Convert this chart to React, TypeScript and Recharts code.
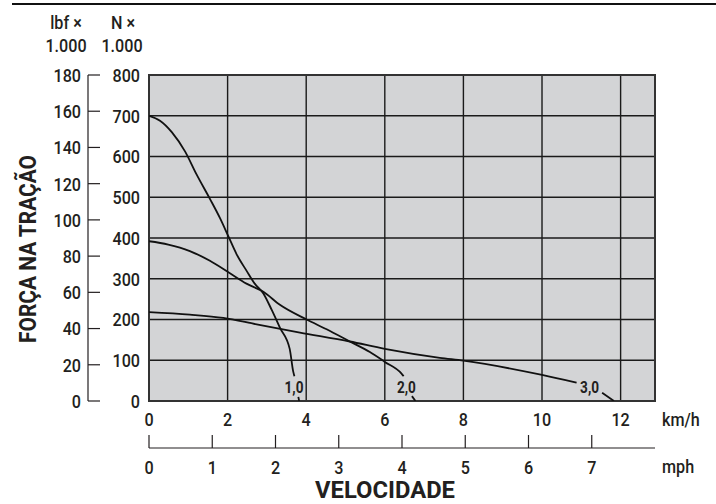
import {
  CartesianGrid,
  Label,
  Line,
  LineChart,
  ReferenceArea,
  ReferenceDot,
  XAxis,
  YAxis,
} from "recharts";

type Point = { x: number; y: number | null };

const FONT = "Roboto, 'Liberation Sans', sans-serif";
const SX = 0.85; // squeeze to mimic the condensed face
const INK = "#231f20";
const PLOT_BG = "#d3d4d6";

const kmhTicks = [0, 2, 4, 6, 8, 10, 12];
const mphTicks = [0, 1, 2, 3, 4, 5, 6, 7];
const newtonTicks = [0, 100, 200, 300, 400, 500, 600, 700, 800];
const lbfTicks = [0, 20, 40, 60, 80, 100, 120, 140, 160, 180];

// traction force (N) against speed (km/h); null = gap under the curve label
const curve10: Point[] = [
  { x: 0, y: 700 },
  { x: 0.28, y: 688 },
  { x: 0.58, y: 660 },
  { x: 0.92, y: 612 },
  { x: 1.21, y: 556 },
  { x: 1.55, y: 496 },
  { x: 1.81, y: 448 },
  { x: 2.02, y: 404 },
  { x: 2.23, y: 360 },
  { x: 2.48, y: 320 },
  { x: 2.69, y: 288 },
  { x: 2.91, y: 264 },
  { x: 3.12, y: 224 },
  { x: 3.33, y: 180 },
  { x: 3.58, y: 128 },
  { x: 3.67, y: 72 },
  { x: 3.7, y: 61 },
  { x: 3.75, y: null },
  { x: 3.8, y: 10 },
  { x: 3.82, y: 0 },
];

const curve20: Point[] = [
  { x: 0, y: 392 },
  { x: 0.49, y: 384 },
  { x: 1.04, y: 368 },
  { x: 1.55, y: 344 },
  { x: 2.02, y: 316 },
  { x: 2.48, y: 288 },
  { x: 2.91, y: 268 },
  { x: 3.33, y: 236 },
  { x: 4.01, y: 200 },
  { x: 4.52, y: 176 },
  { x: 5.11, y: 146 },
  { x: 5.62, y: 120 },
  { x: 6.0, y: 96 },
  { x: 6.42, y: 68 },
  { x: 6.48, y: 61 },
  { x: 6.6, y: null },
  { x: 6.69, y: 12 },
  { x: 6.78, y: 0 },
];

const curve30: Point[] = [
  { x: 0, y: 218 },
  { x: 1.04, y: 212 },
  { x: 1.89, y: 204 },
  { x: 2.74, y: 188 },
  { x: 3.84, y: 168 },
  { x: 5.11, y: 146 },
  { x: 6.0, y: 128 },
  { x: 7.4, y: 106 },
  { x: 8.0, y: 99 },
  { x: 10.0, y: 64 },
  { x: 10.88, y: 45 },
  { x: 11.2, y: null },
  { x: 11.53, y: 20 },
  { x: 11.83, y: 0 },
];

const curveLabels = [
  { x: 3.69, y: 33, text: "1,0" },
  { x: 6.55, y: 33, text: "2,0" },
  { x: 11.21, y: 33, text: "3,0" },
];

type CTextProps = {
  x: number;
  y: number;
  dy?: string;
  anchor?: "start" | "middle" | "end";
  size?: number;
  weight?: number;
  children: React.ReactNode;
};

// condensed text: scaled horizontally around its own anchor
function CText({ x, y, dy = "0.36em", anchor = "middle", size = 19, weight = 500, children }: CTextProps) {
  return (
    <text
      transform={`translate(${x},${y}) scale(${SX},1)`}
      dy={dy}
      textAnchor={anchor}
      fill={INK}
      fontSize={size}
      fontWeight={weight}
      fontFamily={FONT}
    >
      {children}
    </text>
  );
}

const LbfTick = (props: any) => {
  const { x, y, payload } = props;
  return (
    <g>
      <line x1={x + 7} y1={y} x2={x + 19} y2={y} stroke={INK} strokeWidth={1.2} />
      <CText x={x} y={y} anchor="end">{payload.value}</CText>
    </g>
  );
};

const NewtonTick = (props: any) => {
  const { x, y, payload } = props;
  return <CText x={x} y={y} anchor="end">{payload.value}</CText>;
};

const KmhTick = (props: any) => {
  const { x, y, payload } = props;
  return <CText x={x} y={y} dy="0.71em">{payload.value}</CText>;
};

const MphTick = (props: any) => {
  const { x, y, payload } = props;
  return (
    <g>
      <line x1={x} y1={y - 25} x2={x} y2={y - 12} stroke={INK} strokeWidth={1.2} />
      <CText x={x} y={y} dy="0.71em">{payload.value}</CText>
    </g>
  );
};

const CurveLabel = (props: any) => {
  const { viewBox, value } = props;
  const cx = viewBox.x + viewBox.width / 2;
  const cy = viewBox.y + viewBox.height / 2;
  return (
    <CText x={cx} y={cy} size={16} weight={700}>
      {value}
    </CText>
  );
};

export default function App() {
  return (
    <div style={{ position: "absolute", left: 0, top: 0, background: "#fff" }}>
      <LineChart width={716} height={504} margin={{ top: 75, right: 61, bottom: 26, left: 0 }}>
        <CartesianGrid
          xAxisId="kmh"
          yAxisId="N"
          fill={PLOT_BG}
          fillOpacity={1}
          stroke="#1a1a1a"
          strokeWidth={1.4}
        />
        <XAxis
          xAxisId="kmh"
          dataKey="x"
          type="number"
          domain={[0, 12.875]}
          ticks={kmhTicks}
          allowDataOverflow
          axisLine={false}
          tickLine={false}
          tickSize={0}
          tickMargin={11}
          height={47}
          interval={0}
          tick={<KmhTick />}
        >
          <Label
            content={() => (
              <CText x={662} y={419} anchor="start">
                km/h
              </CText>
            )}
          />
        </XAxis>
        <XAxis
          xAxisId="mph"
          dataKey="x"
          type="number"
          domain={[0, 8]}
          ticks={mphTicks}
          allowDataOverflow
          axisLine={{ stroke: INK, strokeWidth: 1.2 }}
          tickLine={false}
          tickSize={0}
          tickMargin={12}
          height={30}
          interval={0}
          tick={<MphTick />}
        >
          <Label
            content={() => (
              <g>
                <CText x={662} y={466} anchor="start">
                  mph
                </CText>
                <text
                  x={385}
                  y={490}
                  dy="0.36em"
                  textAnchor="middle"
                  textLength={140}
                  lengthAdjust="spacingAndGlyphs"
                  fill={INK}
                  fontSize={23}
                  fontWeight={700}
                  fontFamily={FONT}
                >
                  VELOCIDADE
                </text>
              </g>
            )}
          />
        </XAxis>
        <YAxis
          yAxisId="N"
          type="number"
          domain={[0, 800]}
          ticks={newtonTicks}
          allowDataOverflow
          axisLine={false}
          tickLine={false}
          tickSize={0}
          tickMargin={9}
          width={61}
          interval={0}
          tick={<NewtonTick />}
        >
          <Label
            content={() => (
              <g>
                <CText x={123} y={22}>N ×</CText>
                <CText x={122} y={45}>1.000</CText>
              </g>
            )}
          />
        </YAxis>
        <YAxis
          yAxisId="lbf"
          type="number"
          domain={[0, 180]}
          ticks={lbfTicks}
          allowDataOverflow
          axisLine={{ stroke: INK, strokeWidth: 1.2 }}
          tickLine={false}
          tickSize={0}
          tickMargin={7}
          width={88}
          interval={0}
          tick={<LbfTick />}
        >
          <Label
            content={() => (
              <g>
                <line x1={12} y1={4} x2={716} y2={4} stroke="#111" strokeWidth={2.2} />
                <CText x={66} y={22}>lbf ×</CText>
                <CText x={66} y={45}>1.000</CText>
                <text
                  x={27}
                  y={249}
                  dy="0.36em"
                  transform="rotate(-90 27 249)"
                  textAnchor="middle"
                  textLength={188}
                  lengthAdjust="spacingAndGlyphs"
                  fill={INK}
                  fontSize={24}
                  fontWeight={700}
                  fontFamily={FONT}
                >
                  FORÇA NA TRAÇÃO
                </text>
              </g>
            )}
          />
        </YAxis>
        <ReferenceArea
          xAxisId="kmh"
          yAxisId="N"
          x1={0}
          x2={12.875}
          y1={0}
          y2={800}
          fill="none"
          fillOpacity={0}
          stroke="#333"
          strokeWidth={2}
          ifOverflow="visible"
        />
        {[curve10, curve20, curve30].map((curve, i) => (
          <Line
            key={i}
            xAxisId="kmh"
            yAxisId="N"
            data={curve}
            dataKey="y"
            type="monotone"
            stroke="#111"
            strokeWidth={1.8}
            dot={false}
            activeDot={false}
            connectNulls={false}
            isAnimationActive={false}
          />
        ))}
        {curveLabels.map((c) => (
          <ReferenceDot
            key={c.text}
            xAxisId="kmh"
            yAxisId="N"
            x={c.x}
            y={c.y}
            r={0}
            fill="none"
            stroke="none"
            label={<CurveLabel value={c.text} />}
          />
        ))}
      </LineChart>
    </div>
  );
}
